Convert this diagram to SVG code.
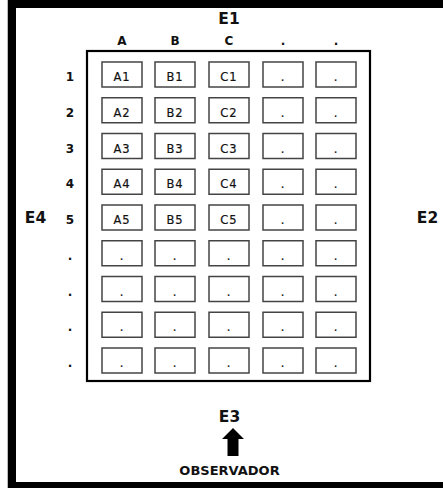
<svg xmlns="http://www.w3.org/2000/svg" width="443" height="488" viewBox="0 0 443 488">
<style>
.lbl{font-family:"DejaVu Sans",Verdana,sans-serif;font-weight:bold;fill:#111;text-anchor:middle}
.big{font-size:15.5px}
.sm{font-size:12px}
.obs{font-size:13px}
.cell rect{fill:#fff;stroke:#444;stroke-width:1.5}
.cell text{font-family:"DejaVu Sans",Verdana,sans-serif;font-size:11.5px;fill:#111;text-anchor:middle;letter-spacing:1px;stroke:#111;stroke-width:0.2}
</style>
<rect x="0" y="0" width="443" height="488" fill="#fff"/>
<g id="frame">
<line x1="7.5" y1="0" x2="7.5" y2="488" stroke="#bbb" stroke-width="1"/>
<rect x="8" y="0" width="435" height="8" fill="#000"/>
<rect x="8" y="0" width="8" height="488" fill="#000"/>
<rect x="8" y="482" width="435" height="6" fill="#000"/>
</g>
<g id="grid-border"><rect x="87" y="51" width="283" height="330" fill="none" stroke="#000" stroke-width="2.2"/></g>
<g id="labels">
<text class="lbl big" x="229" y="24">E1</text>
<text class="lbl big" x="427.5" y="223">E2</text>
<text class="lbl big" x="229.5" y="422">E3</text>
<text class="lbl big" x="35.5" y="223">E4</text>
<text class="lbl obs" x="229.5" y="475">OBSERVADOR</text>
<text class="lbl sm" x="122" y="45">A</text>
<text class="lbl sm" x="175" y="45">B</text>
<text class="lbl sm" x="229" y="45">C</text>
<text class="lbl sm" x="283" y="45">.</text>
<text class="lbl sm" x="336" y="45">.</text>
<text class="lbl sm" x="70" y="81">1</text>
<text class="lbl sm" x="70" y="116.75">2</text>
<text class="lbl sm" x="70" y="152.5">3</text>
<text class="lbl sm" x="70" y="188.25">4</text>
<text class="lbl sm" x="70" y="224">5</text>
<text class="lbl sm" x="70" y="259.75">.</text>
<text class="lbl sm" x="70" y="295.5">.</text>
<text class="lbl sm" x="70" y="331.25">.</text>
<text class="lbl sm" x="70" y="367">.</text>
</g>
<g id="connectors">
<polygon points="233,428 244,439 238.5,439 238.5,456 227.5,456 227.5,439 222,439" fill="#000"/>
</g>
<g id="cells">
<g id="A1" class="cell"><rect x="102" y="62" width="40" height="25"/><text x="122" y="81">A1</text></g>
<g id="B1" class="cell"><rect x="155" y="62" width="40" height="25"/><text x="175" y="81">B1</text></g>
<g id="C1" class="cell"><rect x="209" y="62" width="40" height="25"/><text x="229" y="81">C1</text></g>
<g id="D1" class="cell"><rect x="263" y="62" width="40" height="25"/><text x="283" y="81">.</text></g>
<g id="E1c" class="cell"><rect x="316" y="62" width="40" height="25"/><text x="336" y="81">.</text></g>
<g id="A2" class="cell"><rect x="102" y="97.75" width="40" height="25"/><text x="122" y="116.75">A2</text></g>
<g id="B2" class="cell"><rect x="155" y="97.75" width="40" height="25"/><text x="175" y="116.75">B2</text></g>
<g id="C2" class="cell"><rect x="209" y="97.75" width="40" height="25"/><text x="229" y="116.75">C2</text></g>
<g id="D2" class="cell"><rect x="263" y="97.75" width="40" height="25"/><text x="283" y="116.75">.</text></g>
<g id="E2c" class="cell"><rect x="316" y="97.75" width="40" height="25"/><text x="336" y="116.75">.</text></g>
<g id="A3" class="cell"><rect x="102" y="133.5" width="40" height="25"/><text x="122" y="152.5">A3</text></g>
<g id="B3" class="cell"><rect x="155" y="133.5" width="40" height="25"/><text x="175" y="152.5">B3</text></g>
<g id="C3" class="cell"><rect x="209" y="133.5" width="40" height="25"/><text x="229" y="152.5">C3</text></g>
<g id="D3" class="cell"><rect x="263" y="133.5" width="40" height="25"/><text x="283" y="152.5">.</text></g>
<g id="E3c" class="cell"><rect x="316" y="133.5" width="40" height="25"/><text x="336" y="152.5">.</text></g>
<g id="A4" class="cell"><rect x="102" y="169.25" width="40" height="25"/><text x="122" y="188.25">A4</text></g>
<g id="B4" class="cell"><rect x="155" y="169.25" width="40" height="25"/><text x="175" y="188.25">B4</text></g>
<g id="C4" class="cell"><rect x="209" y="169.25" width="40" height="25"/><text x="229" y="188.25">C4</text></g>
<g id="D4" class="cell"><rect x="263" y="169.25" width="40" height="25"/><text x="283" y="188.25">.</text></g>
<g id="E4c" class="cell"><rect x="316" y="169.25" width="40" height="25"/><text x="336" y="188.25">.</text></g>
<g id="A5" class="cell"><rect x="102" y="205" width="40" height="25"/><text x="122" y="224">A5</text></g>
<g id="B5" class="cell"><rect x="155" y="205" width="40" height="25"/><text x="175" y="224">B5</text></g>
<g id="C5" class="cell"><rect x="209" y="205" width="40" height="25"/><text x="229" y="224">C5</text></g>
<g id="D5" class="cell"><rect x="263" y="205" width="40" height="25"/><text x="283" y="224">.</text></g>
<g id="E5c" class="cell"><rect x="316" y="205" width="40" height="25"/><text x="336" y="224">.</text></g>
<g id="A6" class="cell"><rect x="102" y="240.75" width="40" height="25"/><text x="122" y="259.75">.</text></g>
<g id="B6" class="cell"><rect x="155" y="240.75" width="40" height="25"/><text x="175" y="259.75">.</text></g>
<g id="C6" class="cell"><rect x="209" y="240.75" width="40" height="25"/><text x="229" y="259.75">.</text></g>
<g id="D6" class="cell"><rect x="263" y="240.75" width="40" height="25"/><text x="283" y="259.75">.</text></g>
<g id="E6c" class="cell"><rect x="316" y="240.75" width="40" height="25"/><text x="336" y="259.75">.</text></g>
<g id="A7" class="cell"><rect x="102" y="276.5" width="40" height="25"/><text x="122" y="295.5">.</text></g>
<g id="B7" class="cell"><rect x="155" y="276.5" width="40" height="25"/><text x="175" y="295.5">.</text></g>
<g id="C7" class="cell"><rect x="209" y="276.5" width="40" height="25"/><text x="229" y="295.5">.</text></g>
<g id="D7" class="cell"><rect x="263" y="276.5" width="40" height="25"/><text x="283" y="295.5">.</text></g>
<g id="E7c" class="cell"><rect x="316" y="276.5" width="40" height="25"/><text x="336" y="295.5">.</text></g>
<g id="A8" class="cell"><rect x="102" y="312.25" width="40" height="25"/><text x="122" y="331.25">.</text></g>
<g id="B8" class="cell"><rect x="155" y="312.25" width="40" height="25"/><text x="175" y="331.25">.</text></g>
<g id="C8" class="cell"><rect x="209" y="312.25" width="40" height="25"/><text x="229" y="331.25">.</text></g>
<g id="D8" class="cell"><rect x="263" y="312.25" width="40" height="25"/><text x="283" y="331.25">.</text></g>
<g id="E8c" class="cell"><rect x="316" y="312.25" width="40" height="25"/><text x="336" y="331.25">.</text></g>
<g id="A9" class="cell"><rect x="102" y="348" width="40" height="25"/><text x="122" y="367">.</text></g>
<g id="B9" class="cell"><rect x="155" y="348" width="40" height="25"/><text x="175" y="367">.</text></g>
<g id="C9" class="cell"><rect x="209" y="348" width="40" height="25"/><text x="229" y="367">.</text></g>
<g id="D9" class="cell"><rect x="263" y="348" width="40" height="25"/><text x="283" y="367">.</text></g>
<g id="E9c" class="cell"><rect x="316" y="348" width="40" height="25"/><text x="336" y="367">.</text></g>
</g>
</svg>
